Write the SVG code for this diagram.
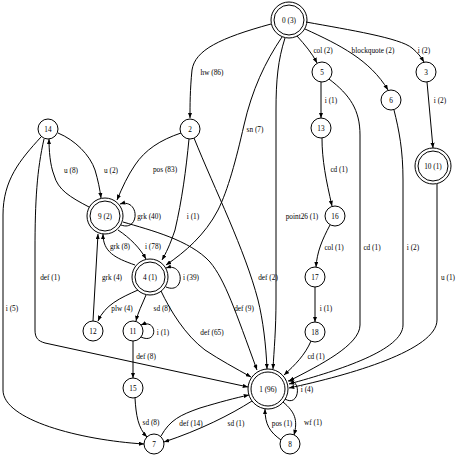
<svg xmlns="http://www.w3.org/2000/svg" width="456" height="456" viewBox="0 0 456 456">
<defs>
<marker id="ah" viewBox="0 0 10 8" refX="10" refY="4" markerWidth="5.5" markerHeight="4.2" markerUnits="userSpaceOnUse" orient="auto">
<path d="M0,0 L10,4 L0,8 z" fill="#000"/>
</marker>
<style>
.n circle{fill:none;stroke:#000;stroke-width:1}
text{font-family:"Liberation Serif","Times New Roman",serif;font-size:7.3px;fill:#000;text-anchor:middle}
#edges path{fill:none;stroke:#000;stroke-width:1;marker-end:url(#ah)}
</style>
</defs>
<rect width="456" height="456" fill="#fff"/>
<g id="edges">
<path d="M271,24 C220,38 195,50 192,70 C190,90 190,105 190,118"/>
<path d="M282,37 C265,62 252,90 244,125 C236,160 228,190 218,210 C205,235 185,252 166,265"/>
<path d="M285,38 C278,60 276,80 276,110 L276,300 C276,330 274,350 273,369"/>
<path d="M297,36 C305,45 312,53 317,63"/>
<path d="M305,29 C340,45 370,60 388,90"/>
<path d="M306,22 C350,30 400,38 412,48 C418,53 421,57 424,62"/>
<path d="M321,82 L321,118"/>
<path d="M329,79 C350,95 360,110 360,135 L360,325 C360,345 320,365 289,381"/>
<path d="M394,110 C399,130 403,150 403,180 L403,325 C403,350 340,370 289,384"/>
<path d="M427,82 L433,148"/>
<path d="M437,184 L437,320 C437,350 350,375 289,388"/>
<path d="M322,138 C322,160 326,180 332,206"/>
<path d="M330,225 C322,240 317,252 316,267"/>
<path d="M315,287 L315,322"/>
<path d="M311,341 C305,355 295,365 284,375"/>
<path d="M58,133 C75,140 90,155 95,170 C98,180 100,190 101,198"/>
<path d="M89,207 C70,197 58,190 54,175 C50,165 49,150 49,139"/>
<path d="M44,139 C37,170 35,200 35,250 L35,330 C35,338 38,341 45,343 L248,387"/>
<path d="M41,137 C20,160 3,180 3,215 L3,390 C3,420 80,440 144,444"/>
<path d="M181,133 C160,140 145,150 135,165 C128,175 122,188 117,200"/>
<path d="M189,139 C186,170 182,200 175,230 C170,245 166,253 162,260"/>
<path d="M194,138 C215,190 245,250 258,300 C263,320 266,345 267,369"/>
<path d="M121,225 C140,232 140,198 120,204"/>
<path d="M118,230 C130,238 140,248 146,259"/>
<path d="M135,265 C115,258 103,252 103,234"/>
<path d="M93,321 L98,234"/>
<path d="M123,222 C150,230 190,240 210,262 C225,280 235,310 257,370"/>
<path d="M166,287 C185,295 185,262 166,268"/>
<path d="M138,290 C120,298 105,305 98,321"/>
<path d="M146,295 C142,305 138,312 136,321"/>
<path d="M161,291 C170,310 185,335 205,350 C220,360 235,368 251,377"/>
<path d="M141,337 C158,345 158,318 141,325"/>
<path d="M133,341 L133,378"/>
<path d="M135,398 C136,415 138,428 147,437"/>
<path d="M161,436 C170,420 180,415 200,408 C220,402 235,398 249,395"/>
<path d="M252,401 C230,415 200,430 164,442"/>
<path d="M281,440 C270,432 265,425 265,409"/>
<path d="M283,402 C295,412 298,420 294,435"/>
<path d="M285,399 C300,408 302,378 288,381"/>
</g>
<g id="edge-labels">
<text x="212" y="75">hw (86)</text>
<text x="255" y="132">sn (7)</text>
<text x="302" y="219">point26 (1)</text>
<text x="323" y="53">col (2)</text>
<text x="373" y="53">blockquote (2)</text>
<text x="424" y="53">i (2)</text>
<text x="331" y="103">i (1)</text>
<text x="440" y="103">i (2)</text>
<text x="339" y="172">cd (1)</text>
<text x="334" y="250">col (1)</text>
<text x="372" y="250">cd (1)</text>
<text x="413" y="250">i (2)</text>
<text x="448" y="280">u (1)</text>
<text x="326" y="311">i (1)</text>
<text x="316" y="359">cd (1)</text>
<text x="307" y="392">i (4)</text>
<text x="313" y="425">wf (1)</text>
<text x="282" y="426">pos (1)</text>
<text x="236" y="426">sd (1)</text>
<text x="191" y="426">def (14)</text>
<text x="151" y="425">sd (8)</text>
<text x="146" y="359">def (8)</text>
<text x="163" y="335">i (1)</text>
<text x="212" y="335">def (65)</text>
<text x="244" y="311">def (9)</text>
<text x="268" y="280">def (2)</text>
<text x="191" y="280">i (39)</text>
<text x="122" y="311">plw (4)</text>
<text x="162" y="311">sd (8)</text>
<text x="112" y="280">grk (4)</text>
<text x="120" y="249">grk (8)</text>
<text x="153" y="249">i (78)</text>
<text x="149" y="219">grk (40)</text>
<text x="165" y="172">pos (83)</text>
<text x="193" y="219">i (1)</text>
<text x="71" y="173">u (8)</text>
<text x="111" y="173">u (2)</text>
<text x="50" y="280">def (1)</text>
<text x="12" y="311">i (5)</text>
</g>
<g id="n0" class="n"><circle cx="289" cy="20" r="18"/><circle cx="289" cy="20" r="15"/><text x="289" y="23">0 (3)</text></g>
<g id="n5" class="n"><circle cx="322" cy="72" r="10"/><text x="322" y="75">5</text></g>
<g id="n6" class="n"><circle cx="391" cy="100" r="10"/><text x="391" y="103">6</text></g>
<g id="n3" class="n"><circle cx="426" cy="72" r="10"/><text x="426" y="75">3</text></g>
<g id="n2" class="n"><circle cx="190" cy="129" r="10"/><text x="190" y="132">2</text></g>
<g id="n14" class="n"><circle cx="48" cy="129" r="10"/><text x="48" y="132">14</text></g>
<g id="n13" class="n"><circle cx="321" cy="128" r="10"/><text x="321" y="131">13</text></g>
<g id="n10" class="n"><circle cx="433" cy="166" r="18"/><circle cx="433" cy="166" r="15"/><text x="433" y="169">10 (1)</text></g>
<g id="n16" class="n"><circle cx="335" cy="216" r="10"/><text x="335" y="219">16</text></g>
<g id="n9" class="n"><circle cx="105" cy="216" r="18"/><circle cx="105" cy="216" r="15"/><text x="105" y="219">9 (2)</text></g>
<g id="n4" class="n"><circle cx="150" cy="277" r="18"/><circle cx="150" cy="277" r="15"/><text x="150" y="280">4 (1)</text></g>
<g id="n17" class="n"><circle cx="315" cy="277" r="10"/><text x="315" y="280">17</text></g>
<g id="n12" class="n"><circle cx="93" cy="331" r="10"/><text x="93" y="334">12</text></g>
<g id="n11" class="n"><circle cx="133" cy="331" r="10"/><text x="133" y="334">11</text></g>
<g id="n18" class="n"><circle cx="315" cy="332" r="10"/><text x="315" y="335">18</text></g>
<g id="n15" class="n"><circle cx="133" cy="388" r="10"/><text x="133" y="391">15</text></g>
<g id="n1" class="n"><circle cx="268" cy="389" r="20"/><circle cx="268" cy="389" r="17"/><text x="268" y="392">1 (96)</text></g>
<g id="n7" class="n"><circle cx="154" cy="444" r="10"/><text x="154" y="447">7</text></g>
<g id="n8" class="n"><circle cx="290" cy="444" r="10"/><text x="290" y="447">8</text></g>
</svg>
